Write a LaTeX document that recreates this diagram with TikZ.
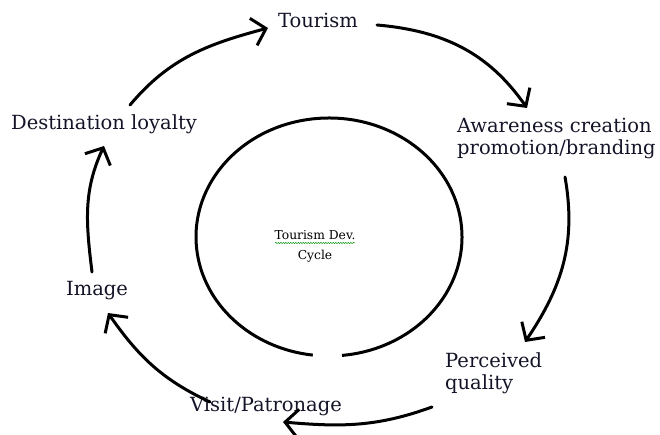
\documentclass[tikz,border=0pt]{standalone}
\usepackage{tikz}
\usepackage{fontspec}
\setmainfont{DejaVu Serif}
\usetikzlibrary{arrows.meta, decorations.pathmorphing}
\definecolor{inkblue}{RGB}{20,20,40}

\begin{document}
\begin{tikzpicture}[x=1pt, y=1pt, >={Straight Barb[length=13pt,width=28pt]}]
      \tikzstyle{stage} = [inner sep=0pt, text=inkblue, font=\fontsize{19.5}{22}\selectfont]
      \tikzstyle{arrow} = [line width=3pt, line cap=round, line join=round, ->]
      \useasboundingbox (0,0) rectangle (660,435);

      \node (tourism) [stage] at (318,415) {Tourism};
      \node (aware) [stage, anchor=west, align=left] at (457,297) {Awareness creation\\promotion/branding};
      \node (perc) [stage, anchor=west, align=left] at (445,62) {Perceived\\quality};
      \node (visit) [stage] at (266,29) {Visit/Patronage};
      \node (image) [stage] at (97,144) {Image};
      \node (dest) [stage] at (104,311) {Destination loyalty};

      % inner cycle, open at the bottom
      \draw [line width=3pt] (329,198) ++(275.6:133 and 119) arc[start angle=275.6, end angle=623, x radius=133, y radius=119];
      \node (devlabel) [inner sep=0pt, align=center, font=\fontsize{12.3}{20}\selectfont] at (315,189) {Tourism Dev.\\Cycle};
      \draw [green!55!black, line width=0.5pt, decorate, decoration={snake, amplitude=0.6pt, segment length=2.5pt}] ([shift={(-40,3)}]devlabel.center) -- ([shift={(40,3)}]devlabel.center);

      \draw [arrow] ([shift={(26,19)}]dest.center) to[out=50, in=195] ([shift={(-50,-8)}]tourism.center);
      \draw [arrow] ([shift={(59,-5)}]tourism.center) to[out=-5, in=125] ([shift={(70,30)}]aware.west);
      \draw [arrow] ([shift={(108,-39)}]aware.west) to[out=-80, in=56] ([shift={(80,31)}]perc.west);
      \draw [arrow] ([shift={(-13,-34)}]perc.west) to[out=200, in=-5] ([shift={(17,-16)}]visit.center);
      \draw [arrow] ([shift={(-56,4)}]visit.center) to[out=155, in=-55] ([shift={(11,-22)}]image.center);
      \draw [arrow] ([shift={(-5,19)}]image.center) to[out=97, in=-115] ([shift={(0,-22)}]dest.center);

\end{tikzpicture}
\end{document}
